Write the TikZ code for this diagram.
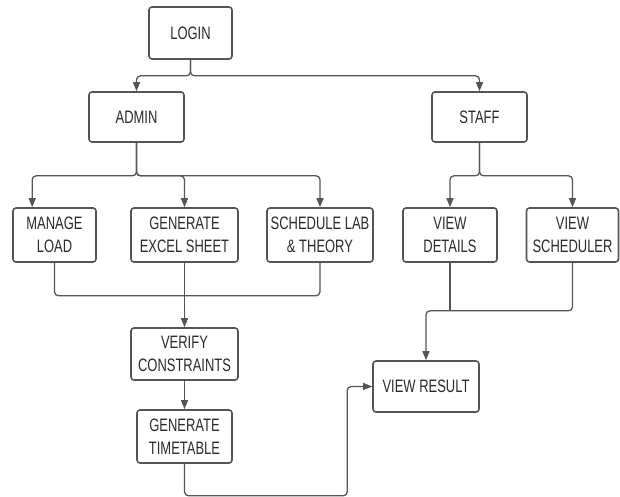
\documentclass[tikz,border=0pt]{standalone}
\usepackage{fontspec}
\setmainfont{Liberation Sans}[FakeStretch=0.72]
\usetikzlibrary{arrows.meta}
\definecolor{linegray}{HTML}{555555}
\definecolor{textgray}{HTML}{2A2A2A}
\begin{document}
\begin{tikzpicture}[x=1pt, y=-1pt, >={Triangle[length=9pt, width=7pt]},
	box/.style={draw=linegray, line width=1.6pt, rounded corners=3pt, inner sep=0pt, align=center,
		text=textgray, font=\fontsize{18pt}{23.3pt}\selectfont},
	link/.style={draw=linegray, line width=1.3pt, rounded corners=4pt}]
\useasboundingbox (0,0) rectangle (620,497);

\node[box, minimum width=83pt, minimum height=52pt] (login) at (190.5,33) {LOGIN};
\node[box, minimum width=95pt, minimum height=50pt] (admin) at (136.5,117) {ADMIN};
\node[box, minimum width=95pt, minimum height=50pt] (staff) at (479.5,117) {STAFF};

\node[box, minimum width=83pt, minimum height=54pt] (manage) at (54.5,235) {MANAGE\\LOAD};
\node[box, minimum width=107pt, minimum height=54pt] (excel) at (184.5,235) {GENERATE\\EXCEL SHEET};
\node[box, minimum width=106pt, minimum height=54pt] (schedule) at (320,235) {SCHEDULE LAB\\\& THEORY};
\node[box, minimum width=94pt, minimum height=54pt] (details) at (450,235) {VIEW\\DETAILS};
\node[box, minimum width=92pt, minimum height=54pt] (scheduler) at (572.5,235) {VIEW\\SCHEDULER};

\node[box, minimum width=107pt, minimum height=52pt] (verify) at (184.5,354) {VERIFY\\CONSTRAINTS};
\node[box, minimum width=95pt, minimum height=53pt] (timetable) at (184.5,436.5) {GENERATE\\TIMETABLE};
\node[box, minimum width=106pt, minimum height=51pt] (result) at (426,386.5) {VIEW RESULT};

\draw[link, ->] (login.south) -- ++(0,16) -| (admin.north);
\draw[link, ->] (login.south) -- ++(0,16) -| (staff.north);

\draw[link, ->] (admin.south) -- ++(0,33) -| ([xshift=20pt]manage.north west);
\draw[link, ->] (admin.south) -- ++(0,33) -| (excel.north);
\draw[link, ->] (admin.south) -- ++(0,33) -| (schedule.north);

\draw[link, ->] (staff.south) -- ++(0,33) -| (details.north);
\draw[link, ->] (staff.south) -- ++(0,33) -| (scheduler.north);

\draw[link] (manage.south) -- ++(0,33) -| (schedule.south);
\draw[link, ->] (excel.south) -- (verify.north);
\draw[link, ->] (verify.south) -- (timetable.north);

\draw[link] (details.south) -- ++(0,48);
\draw[link, ->] (scheduler.south) -- ++(0,48) -| (result.north);

\draw[link, ->] (timetable.south) -- ++(0,32) -| ([xshift=-25pt]result.west) -- (result.west);
\end{tikzpicture}
\end{document}
